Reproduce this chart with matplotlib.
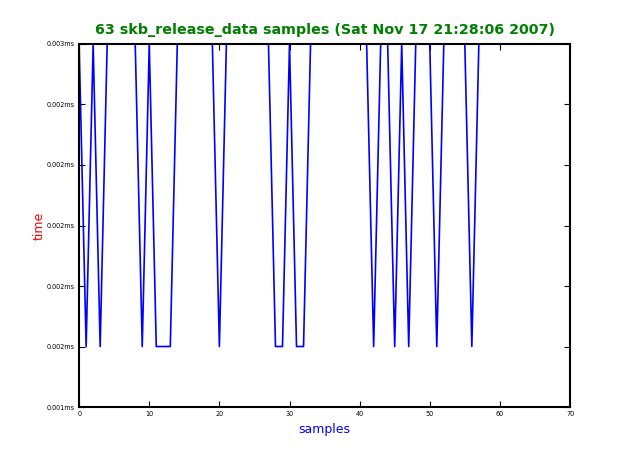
import matplotlib
matplotlib.use("Agg")
import matplotlib.pyplot as plt
from matplotlib.ticker import FuncFormatter

# sample timings (seconds-ish units shown as ms)
HIGH = 0.0026
LOW = 0.0016
low_idx = [1, 3, 9, 11, 12, 13, 20, 28, 29, 31, 32, 42, 45, 47, 51, 56]
samples = list(range(63))
times = [LOW if i in low_idx else HIGH for i in samples]

y_ticks = [0.0014, 0.0016, 0.0018, 0.0020, 0.0022, 0.0024, 0.0026]
x_ticks = [0, 10, 20, 30, 40, 50, 60, 70]

fig = plt.figure(figsize=(6.33, 4.53), dpi=100)
ax = fig.add_axes([0.125, 0.1015, 0.7755, 0.8014])

ax.plot(samples, times, color='blue', linewidth=1.2)

ax.set_xlim(0, 70)
ax.set_ylim(0.0014, 0.0026)
ax.set_xticks(x_ticks)
ax.set_yticks(y_ticks)
ax.yaxis.set_major_formatter(FuncFormatter(lambda v, p: "%.3fms" % v))

ax.tick_params(direction='in', top=True, right=True, length=4, width=0.8,
               labelsize=4.7, pad=3)
for s in ax.spines.values():
    s.set_linewidth(1.5)

ax.set_xlabel('samples', color='blue', fontsize=9, labelpad=4)
ax.set_ylabel('time', color='red', fontsize=9, labelpad=1)
ax.set_title('63 skb_release_data samples (Sat Nov 17 21:28:06 2007)',
             color='green', fontsize=10.3, fontweight='bold', pad=7)

fig.savefig('out.png', dpi=100)
